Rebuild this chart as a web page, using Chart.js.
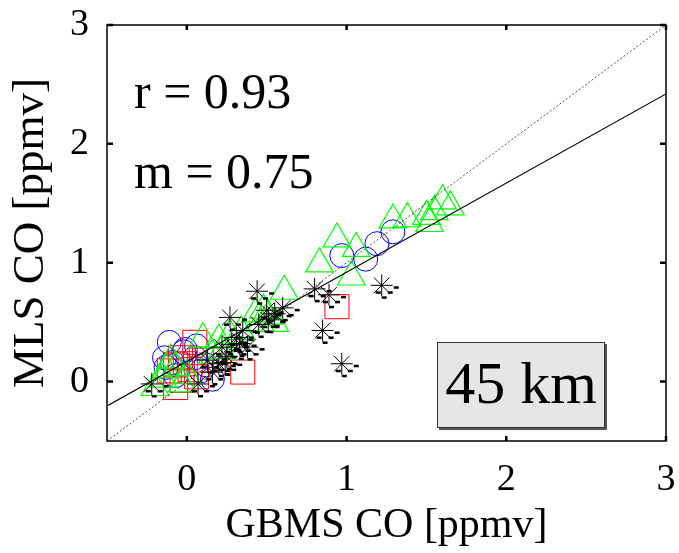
<!DOCTYPE html>
<html lang="en">
<head>
    <meta charset="UTF-8">
    <title>MLS vs GBMS CO, 45 km</title>
    <script src="https://cdn.jsdelivr.net/npm/chart.js"></script>
    <style>
        html, body { margin: 0; padding: 0; background: #fff; }
        #wrap { width: 679px; height: 553px; }
    </style>
</head>
<body>
    <div id="wrap"><canvas id="coChart" width="679" height="553"></canvas></div>

    <script>
        // GBMS CO (x) vs MLS CO (y), ppmv - one list per marker group
        const blueCircles = [
            [0.97, 1.06], [1.12, 1.03], [1.19, 1.16], [1.29, 1.26],
            [-0.11, 0.33], [-0.14, 0.20], [-0.13, 0.12], [-0.02, 0.25], [0.09, 0.09],
            [0.16, 0.02], [-0.07, 0.05], [0.05, 0.20], [-0.01, 0.27], [0.06, 0.30],
            [-0.09, 0.16], [0.12, 0.14]
        ];
        const redSquares = [
            [0.94, 0.63], [0.35, 0.08], [0.05, 0.33], [-0.07, 0.14], [-0.01, 0.15],
            [-0.03, 0.01], [0.06, 0.04], [-0.11, 0.09], [-0.07, -0.05], [0.02, 0.10],
            [-0.04, 0.20], [0.09, 0.18]
        ];
        const greenTriangles = [
            [0.94, 1.20], [1.06, 1.12], [0.83, 0.99], [1.03, 0.88], [1.29, 1.36],
            [1.38, 1.37], [1.50, 1.39], [1.55, 1.43], [1.60, 1.52], [1.52, 1.33], [1.65, 1.47],
            [0.61, 0.76], [0.43, 0.57], [0.51, 0.55], [0.55, 0.49], [0.46, 0.49],
            [0.27, 0.39], [0.20, 0.35], [0.10, 0.36], [0.22, 0.26], [0.16, 0.22],
            [-0.10, 0.18], [-0.07, 0.12], [-0.03, -0.02], [-0.20, -0.05], [-0.15, 0.02],
            [-0.13, 0.10], [0.00, 0.05], [0.34, 0.42], [0.48, 0.60]
        ];
        const blackStars = [
            [0.44, 0.76], [0.80, 0.78], [0.89, 0.73], [1.22, 0.81], [0.85, 0.43],
            [0.97, 0.15], [0.27, 0.54], [0.50, 0.60], [0.60, 0.62], [0.51, 0.52],
            [0.38, 0.29], [0.31, 0.37], [0.24, 0.16], [0.35, 0.43], [0.22, 0.29],
            [-0.22, -0.02], [0.16, 0.08], [0.28, 0.31], [0.25, 0.21], [0.07, -0.02],
            [0.20, 0.15], [0.45, 0.48], [0.55, 0.57], [0.33, 0.32], [0.13, 0.18]
        ];

        // reference lines (end points)
        const oneToOne = [[-0.5, -0.5], [3, 3]];
        const fitLine = [[-0.5, -0.205], [3, 2.42]];

        const xTicks = [0, 1, 2, 3];
        const yTicks = [0, 1, 2, 3];
        const statsText = ['r = 0.93', 'm = 0.75'];
        const boxLabel = '45 km';

        const serif = '"Liberation Serif", "Times New Roman", serif';
        const toXY = arr => arr.map(p => ({ x: p[0], y: p[1] }));

        // box, inward ticks, text labels, and the little dash marks next to each asterisk
        const decorations = {
            id: 'decorations',
            afterDatasetsDraw(chart) {
                const ctx = chart.ctx;
                const a = chart.chartArea;
                const xs = chart.scales.x, ys = chart.scales.y;
                ctx.save();

                // dashes around asterisks
                const meta = chart.getDatasetMeta(3);
                ctx.fillStyle = '#000';
                meta.data.forEach(pt => {
                    [[12, 1], [6, 6], [0, 11], [-6, 6]].forEach(o => {
                        ctx.fillRect(pt.x + o[0], pt.y + o[1], 5, 2.5);
                    });
                });

                // frame
                ctx.strokeStyle = '#000';
                ctx.lineWidth = 1.5;
                ctx.strokeRect(a.left, a.top, a.right - a.left, a.bottom - a.top);

                // inward ticks
                ctx.lineWidth = 2.5;
                ctx.beginPath();
                xTicks.forEach(v => {
                    const px = xs.getPixelForValue(v);
                    ctx.moveTo(px, a.bottom); ctx.lineTo(px, a.bottom - 5);
                    ctx.moveTo(px, a.top); ctx.lineTo(px, a.top + 5);
                });
                yTicks.forEach(v => {
                    const py = ys.getPixelForValue(v);
                    ctx.moveTo(a.left, py); ctx.lineTo(a.left + 6, py);
                    ctx.moveTo(a.right, py); ctx.lineTo(a.right - 6, py);
                });
                ctx.stroke();

                // r and m
                ctx.fillStyle = '#000';
                ctx.font = '50px ' + serif;
                ctx.textAlign = 'left';
                ctx.textBaseline = 'middle';
                ctx.fillText(statsText[0], 134, 95);
                ctx.fillText(statsText[1], 134, 175);

                // label box
                const bx = 437, by = 342, bw = 168, bh = 86;
                ctx.fillStyle = '#555';
                ctx.fillRect(bx + 2, by + 2, bw, bh);
                ctx.fillStyle = '#e6e6e6';
                ctx.fillRect(bx, by, bw, bh);
                ctx.strokeStyle = '#333';
                ctx.lineWidth = 1;
                ctx.strokeRect(bx + 0.5, by + 0.5, bw - 1, bh - 1);
                ctx.fillStyle = '#000';
                ctx.font = '60px ' + serif;
                ctx.textAlign = 'center';
                ctx.fillText(boxLabel, bx + bw / 2, by + bh / 2 + 2);

                ctx.restore();
            }
        };

        const coChart = new Chart(document.getElementById('coChart').getContext('2d'), {
            type: 'scatter',
            data: {
                datasets: [
                    {
                        label: 'blue', data: toXY(blueCircles), order: 5,
                        pointStyle: 'circle', pointRadius: 12, borderColor: '#0000ff',
                        backgroundColor: 'rgba(0,0,0,0)', borderWidth: 1
                    },
                    {
                        label: 'red', data: toXY(redSquares), order: 4,
                        pointStyle: 'rect', pointRadius: 17, borderColor: '#ff0000',
                        backgroundColor: 'rgba(0,0,0,0)', borderWidth: 1
                    },
                    {
                        label: 'green', data: toXY(greenTriangles), order: 3,
                        pointStyle: 'triangle', pointRadius: 16, borderColor: '#00ff00',
                        backgroundColor: 'rgba(0,0,0,0)', borderWidth: 1.2
                    },
                    {
                        label: 'black', data: toXY(blackStars), order: 2,
                        pointStyle: 'star', pointRadius: 11, borderColor: '#000',
                        backgroundColor: '#000', borderWidth: 1
                    },
                    {
                        type: 'line', label: '1:1', data: toXY(oneToOne), order: 1,
                        borderColor: '#000', borderWidth: 0.7, borderDash: [2, 2],
                        pointRadius: 0, fill: false
                    },
                    {
                        type: 'line', label: 'fit', data: toXY(fitLine), order: 0,
                        borderColor: '#000', borderWidth: 1.2,
                        pointRadius: 0, fill: false
                    }
                ]
            },
            options: {
                responsive: false,
                animation: false,
                layout: { autoPadding: false, padding: { left: 0, right: 13, top: 25, bottom: 0 } },
                plugins: { legend: { display: false }, tooltip: { enabled: false } },
                scales: {
                    x: {
                        type: 'linear', min: -0.5, max: 3,
                        afterBuildTicks: s => { s.ticks = xTicks.map(v => ({ value: v })); },
                        afterFit: s => { s.height = 112; s.paddingLeft = 0; s.paddingRight = 0; },
                        grid: { display: false },
                        border: { display: false },
                        ticks: { color: '#000', padding: 8, font: { family: serif, size: 38 } },
                        title: {
                            display: true, text: 'GBMS CO [ppmv]', color: '#000',
                            font: { family: serif, size: 42 }, padding: { top: 0, bottom: 2 }
                        }
                    },
                    y: {
                        type: 'linear', min: -0.5, max: 3,
                        afterBuildTicks: s => { s.ticks = yTicks.map(v => ({ value: v })); },
                        afterFit: s => { s.width = 107; s.paddingTop = 0; s.paddingBottom = 0; },
                        grid: { display: false },
                        border: { display: false },
                        ticks: { color: '#000', padding: 10, font: { family: serif, size: 38 } },
                        title: {
                            display: true, text: 'MLS CO [ppmv]', color: '#000',
                            font: { family: serif, size: 45 }, padding: { top: 4, bottom: 0 }
                        }
                    }
                }
            },
            plugins: [decorations]
        });
    </script>
</body>
</html>
